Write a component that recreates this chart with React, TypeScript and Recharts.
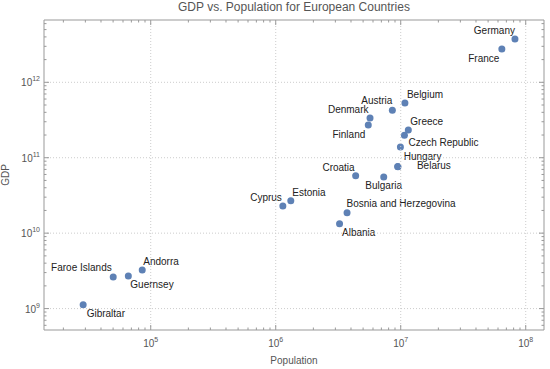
import React from "react";
import { ScatterChart, Scatter, XAxis, YAxis, ReferenceArea } from "recharts";

// values (log-log)
const countries = [
  "Germany", "France", "Belgium", "Austria", "Denmark", "Finland", "Greece", "Portugal",
  "Czech Republic", "Hungary", "Belarus", "Croatia", "Bulgaria", "Estonia", "Cyprus",
  "Bosnia and Herzegovina", "Albania", "Andorra", "Guernsey", "Faroe Islands", "Gibraltar",
];
const population = [
  8.2e7, 6.44e7, 1.08e7, 8.57e6, 5.68e6, 5.5e6, 1.15e7, 1.07e7,
  9.94e6, 9.45e6, 9.5e6, 4.36e6, 7.31e6, 1.32e6, 1.14e6,
  3.72e6, 3.24e6, 8.55e4, 6.62e4, 5.01e4, 2.88e4,
];
const gdp = [
  3.74e12, 2.76e12, 5.32e11, 4.26e11, 3.36e11, 2.72e11, 2.33e11, 1.99e11,
  1.39e11, 7.65e10, 7.6e10, 5.78e10, 5.57e10, 2.69e10, 2.29e10,
  1.87e10, 1.33e10, 3.24e9, 2.7e9, 2.63e9, 1.12e9,
];

const xMajor = [1e5, 1e6, 1e7, 1e8];
const yMajor = [1e9, 1e10, 1e11, 1e12];
const xDomain = [14000, 1.4e8];
const yDomain = [5.2e8, 6.7e12];

const points = countries.map((name, i) => ({ name, pop: population[i], gdp: gdp[i] }));

// label placement: [anchor, dx, dy]; null = no label
const labelPos: Record<string, [string, number, number] | null> = {
  Germany: ["end", 0, -5],
  France: ["end", -2.5, 12.5],
  Belgium: ["start", 2, -4.5],
  Austria: ["end", 0, -6],
  Denmark: ["end", -1.5, -5.5],
  Finland: ["end", -3, 12.8],
  Greece: ["start", 2, -5.2],
  Portugal: null,
  "Czech Republic": ["start", 8, -0.5],
  Hungary: ["start", 6, -7],
  Belarus: ["start", 19, 2.6],
  Croatia: ["end", -1, -5],
  Bulgaria: ["middle", 0, 12.3],
  Estonia: ["start", 1.5, -4.5],
  Cyprus: ["end", -1, -5.5],
  "Bosnia and Herzegovina": ["start", -0.5, -5.5],
  Albania: ["start", 2.5, 12.3],
  Andorra: ["start", 1, -5.5],
  Guernsey: ["start", 2, 11.5],
  "Faroe Islands": ["end", -1.5, -5.8],
  Gibraltar: ["start", 3.5, 12.5],
};

const W = 550;
const H = 369;
const PLOT_TOP = 20;
const PLOT_LEFT = 44;
const PLOT_RIGHT = 544;
const PLOT_BOTTOM = 330;
const FRAME = "#999";
const TXT = "#555";
const DOT = "#5E81B5";

function minorTicks(lo: number, hi: number) {
  const out: number[] = [];
  for (let e = Math.floor(Math.log10(lo)); e <= Math.ceil(Math.log10(hi)); e++) {
    for (let m = 1; m <= 9; m++) {
      const v = m * Math.pow(10, e);
      if (v >= lo && v <= hi) out.push(v);
    }
  }
  return out;
}

const isMajor = (v: number, majors: number[]) => majors.some((m) => Math.abs(v / m - 1) < 1e-6);

const XTick = (props: any) => {
  const { x, y, payload } = props;
  const v = payload.value;
  const major = isMajor(v, xMajor);
  const len = major ? 5 : 2.5;
  return (
    <g>
      {major && (
        <line x1={x} x2={x} y1={PLOT_TOP} y2={y} stroke="#ccc" strokeDasharray="1 2" />
      )}
      <line x1={x} x2={x} y1={y} y2={y - len} stroke={FRAME} />
      <line x1={x} x2={x} y1={PLOT_TOP} y2={PLOT_TOP + len} stroke={FRAME} />
      {major && (
        <text x={x} y={y + 17} textAnchor="middle" fontSize={10} fill={TXT}>
          10
          <tspan dy={-5} fontSize={7}>
            {Math.round(Math.log10(v))}
          </tspan>
        </text>
      )}
    </g>
  );
};

const YTick = (props: any) => {
  const { x, y, payload } = props;
  const v = payload.value;
  const major = isMajor(v, yMajor);
  const len = major ? 5 : 2.5;
  return (
    <g>
      {major && (
        <line x1={x} x2={PLOT_RIGHT} y1={y} y2={y} stroke="#ccc" strokeDasharray="1 2" />
      )}
      <line x1={x} x2={x + len} y1={y} y2={y} stroke={FRAME} />
      <line x1={PLOT_RIGHT} x2={PLOT_RIGHT - len} y1={y} y2={y} stroke={FRAME} />
      {major && (
        <text x={x - 4} y={y + 4} textAnchor="end" fontSize={10} fill={TXT}>
          10
          <tspan dy={-5} fontSize={7}>
            {Math.round(Math.log10(v))}
          </tspan>
        </text>
      )}
    </g>
  );
};

const Dot = (props: any) => {
  const { cx, cy, payload } = props;
  const pos = labelPos[payload.name];
  return (
    <g>
      <circle cx={cx} cy={cy} r={3.5} fill={DOT} />
      {pos && (
        <text x={cx + pos[1]} y={cy + pos[2]} textAnchor={pos[0] as any} fontSize={10} fill="#222">
          {payload.name}
        </text>
      )}
    </g>
  );
};

export default function App() {
  return (
    <div style={{ position: "absolute", left: 0, top: 0, width: W, height: H, fontFamily: "Liberation Sans, Arial, sans-serif" }}>
      <div
        style={{
          position: "absolute",
          left: PLOT_LEFT,
          width: PLOT_RIGHT - PLOT_LEFT,
          top: 0,
          textAlign: "center",
          fontSize: 12,
          lineHeight: "15px",
          color: TXT,
        }}
      >
        GDP vs. Population for European Countries
      </div>
      <ScatterChart
        width={W}
        height={H}
        margin={{ top: PLOT_TOP, right: W - PLOT_RIGHT, bottom: 0, left: 0 }}
        style={{ fontFamily: "Liberation Sans, Arial, sans-serif" }}
      >
        <XAxis
          type="number"
          dataKey="pop"
          scale="log"
          domain={xDomain}
          allowDataOverflow
          ticks={minorTicks(xDomain[0], xDomain[1])}
          interval={0}
          tick={<XTick />}
          tickSize={0}
          tickMargin={0}
          tickLine={false}
          axisLine={false}
          height={H - PLOT_BOTTOM}
          label={{
            content: (p: any) => (
              <text x={(PLOT_LEFT + PLOT_RIGHT) / 2} y={363.5} textAnchor="middle" fontSize={10} fill={TXT}>
                Population
              </text>
            ),
          }}
        />
        <YAxis
          type="number"
          dataKey="gdp"
          scale="log"
          domain={yDomain}
          allowDataOverflow
          ticks={minorTicks(yDomain[0], yDomain[1])}
          interval={0}
          tick={<YTick />}
          tickSize={0}
          tickMargin={0}
          tickLine={false}
          axisLine={false}
          width={PLOT_LEFT}
          label={{
            content: (p: any) => (
              <text transform={`translate(9,${(PLOT_TOP + PLOT_BOTTOM) / 2}) rotate(-90)`} textAnchor="middle" fontSize={10} fill={TXT}>
                GDP
              </text>
            ),
          }}
        />
        <ReferenceArea
          x1={xDomain[0]}
          x2={xDomain[1]}
          y1={yDomain[0]}
          y2={yDomain[1]}
          fill="none"
          fillOpacity={0}
          stroke={FRAME}
          strokeOpacity={1}
        />
        <Scatter data={points} shape={<Dot />} isAnimationActive={false} />
      </ScatterChart>
    </div>
  );
}
